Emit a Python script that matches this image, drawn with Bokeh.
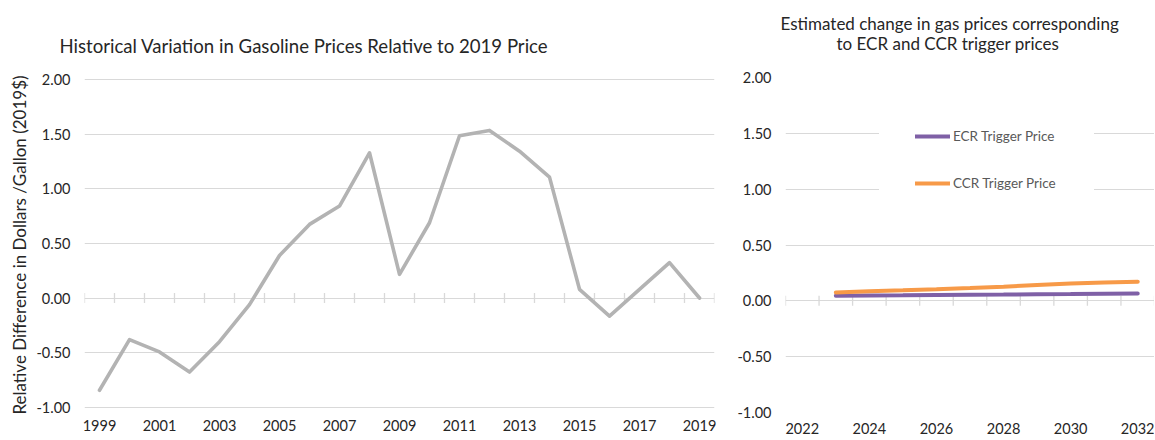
import numpy as np
from bokeh.plotting import figure
from bokeh.models import (Range1d, FixedTicker, NumeralTickFormatter, Legend,
                          LegendItem, Title)
from bokeh.layouts import row
from bokeh.embed import file_html
from bokeh.resources import INLINE

# ---------------- data ----------------
hist_years = ["1999", "2000", "2001", "2002", "2003", "2004", "2005", "2006",
              "2007", "2008", "2009", "2010", "2011", "2012", "2013", "2014",
              "2015", "2016", "2017", "2018", "2019"]
hist_values = [-0.845, -0.381, -0.494, -0.678, -0.40, -0.06, 0.39, 0.675,
               0.843, 1.331, 0.217, 0.69, 1.487, 1.536, 1.346, 1.108,
               0.08, -0.165, 0.08, 0.324, 0.0]
hist_tick_labels = ["1999", "2001", "2003", "2005", "2007", "2009", "2011",
                    "2013", "2015", "2017", "2019"]

proj_years = ["2022", "2023", "2024", "2025", "2026", "2027", "2028", "2029",
              "2030", "2031", "2032"]
trigger_years = ["2023", "2024", "2025", "2026", "2027", "2028", "2029",
                 "2030", "2031", "2032"]
ecr_values = [0.045, 0.047, 0.049, 0.052, 0.054, 0.056, 0.059, 0.061, 0.064, 0.066]
ccr_values = [0.075, 0.085, 0.094, 0.104, 0.115, 0.127, 0.141, 0.155, 0.164, 0.172]
proj_tick_labels = ["2022", "2024", "2026", "2028", "2030", "2032"]

y_ticks = [-1.0, -0.5, 0.0, 0.5, 1.0, 1.5, 2.0]

left_title = "Historical Variation in Gasoline Prices Relative to 2019 Price"
right_title_1 = "Estimated change in gas prices corresponding"
right_title_2 = "to ECR and CCR trigger prices"
y_axis_title = "Relative Difference in Dollars /Gallon (2019$)"

# ---------------- style ----------------
FONT = "Lato"
TXT = "#262626"
GRID = "#d9d9d9"
GRAY_LINE = "#b3b3b3"
PURPLE = "#7f60a6"
ORANGE = "#f79a48"


def pos(cats, items):
    return [cats.index(c) + 0.5 for c in items]


def style(p, cats, tick_labels, x_standoff):
    p.outline_line_color = None
    p.background_fill_color = "white"
    p.border_fill_color = "white"
    p.xgrid.visible = False
    p.ygrid.ticker = FixedTicker(ticks=y_ticks)
    p.ygrid.grid_line_color = GRID
    p.ygrid.grid_line_width = 1.2
    ya = p.yaxis[0]
    ya.ticker = FixedTicker(ticks=y_ticks)
    ya.formatter = NumeralTickFormatter(format="0.00")
    ya.axis_line_color = None
    ya.major_tick_line_color = None
    ya.minor_tick_line_color = None
    ya.major_tick_out = 0
    ya.major_tick_in = 0
    ya.minor_tick_out = 0
    ya.major_label_standoff = 14
    ya.major_label_text_font = FONT
    ya.major_label_text_font_size = "14.5px"
    ya.major_label_text_color = TXT
    xa = p.xaxis[0]
    tpos = pos(cats, tick_labels)
    xa.ticker = FixedTicker(ticks=tpos)
    xa.major_label_overrides = {t: l for t, l in zip(tpos, tick_labels)}
    xa.axis_line_color = None
    xa.major_tick_line_color = None
    xa.minor_tick_line_color = None
    xa.major_tick_out = 0
    xa.major_tick_in = 0
    xa.minor_tick_out = 0
    xa.major_label_standoff = x_standoff
    xa.major_label_text_font = FONT
    xa.major_label_text_font_size = "14.5px"
    xa.major_label_text_color = TXT
    # zero axis line tick marks at category boundaries
    bounds = list(range(len(cats) + 1))
    p.scatter(x=bounds, y=[0] * len(bounds), marker="dash", angle=np.pi / 2,
              size=10, line_color=GRID, line_width=1.3)


# ---------------- left chart ----------------
p1 = figure(width=720, height=440, x_range=Range1d(0, len(hist_years)),
            y_range=Range1d(-1.049, 2.021), output_backend="svg",
            toolbar_location=None,
            min_border_left=84, min_border_right=6, min_border_top=77,
            min_border_bottom=28)
style(p1, hist_years, hist_tick_labels, 7)
p1.yaxis[0].axis_label = y_axis_title
p1.yaxis[0].axis_label_text_font = FONT
p1.yaxis[0].axis_label_text_font_style = "normal"
p1.yaxis[0].axis_label_text_font_size = "17px"
p1.yaxis[0].axis_label_text_color = TXT
p1.yaxis[0].axis_label_standoff = 3
p1.line(x=pos(hist_years, hist_years), y=hist_values, line_color=GRAY_LINE,
        line_width=3.6, line_join="round", line_cap="round")
p1.add_layout(Title(text=left_title, align="left", offset=-25, standoff=42,
                    text_font=FONT, text_font_size="18.6px",
                    text_font_style="normal", text_color=TXT), "above")

# ---------------- right chart ----------------
p2 = figure(width=434, height=440, x_range=Range1d(0, len(proj_years)),
            y_range=Range1d(-1, 2), output_backend="svg", toolbar_location=None,
            min_border_left=65, min_border_right=0, min_border_top=77,
            min_border_bottom=28)
style(p2, proj_years, proj_tick_labels, 10)
r_ecr = p2.line(x=pos(proj_years, trigger_years), y=ecr_values, line_color=PURPLE,
                line_width=4, line_cap="round")
r_ccr = p2.line(x=pos(proj_years, trigger_years), y=ccr_values, line_color=ORANGE,
                line_width=4, line_cap="round")
legend = Legend(items=[LegendItem(label="ECR Trigger Price", renderers=[r_ecr]),
                       LegendItem(label="CCR Trigger Price", renderers=[r_ccr])],
                location=(94, 183), glyph_width=35, glyph_height=20, spacing=27,
                padding=36, label_standoff=3, label_width=105,
                label_text_font=FONT, label_text_font_size="13.5px",
                label_text_color="#595959", border_line_alpha=0,
                background_fill_color="white", background_fill_alpha=1)
p2.add_layout(legend)
# second title line (nearest the plot), then first line above it
p2.add_layout(Title(text=right_title_2, align="left", offset=51, standoff=48,
                    text_font=FONT, text_font_size="17px",
                    text_font_style="normal", text_color=TXT), "above")
p2.add_layout(Title(text=right_title_1, align="left", offset=-5, standoff=-54,
                    text_font=FONT, text_font_size="17px",
                    text_font_style="normal", text_color=TXT), "above")

layout = row(p1, p2, spacing=0)
open("out.html", "w").write(file_html(layout, INLINE))
